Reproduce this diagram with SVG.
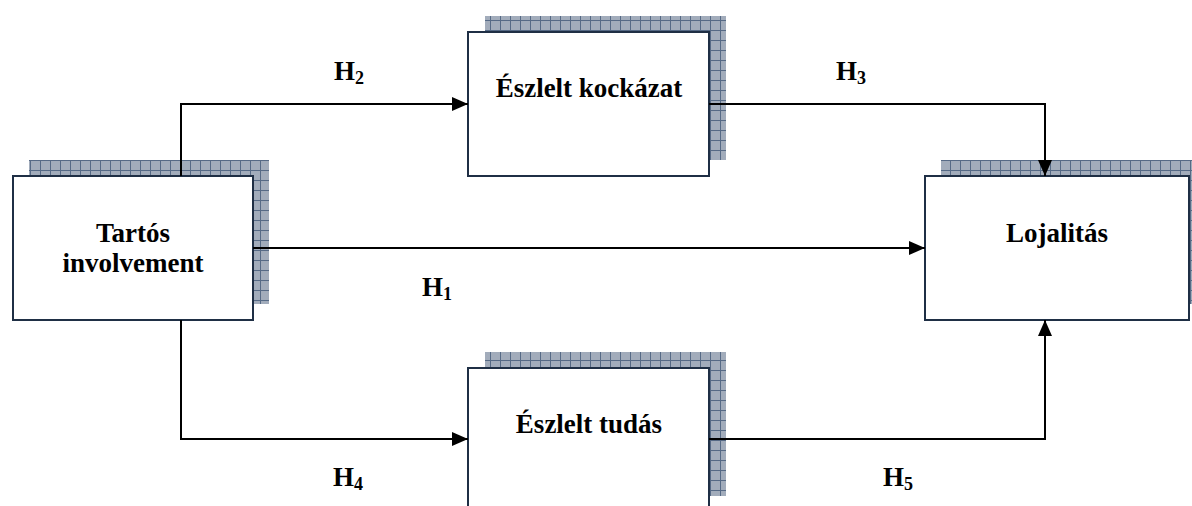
<svg xmlns="http://www.w3.org/2000/svg" width="1192" height="506" viewBox="0 0 1192 506">
  <style>
    .box { fill: #ffffff; stroke: #1f2f45; stroke-width: 2; }
    .shadow { fill: url(#grid); }
    text { font-family: 'Liberation Serif', 'Times New Roman', 'DejaVu Serif', serif; font-weight: bold; font-size: 27px; fill: #000000; }
    .sub { font-size: 18px; }
    .link { fill: none; stroke: #000000; stroke-width: 2; }
  </style>
  <defs>
    <!-- checked grid used for the offset drop shadows -->
    <pattern id="grid" patternUnits="userSpaceOnUse" width="10" height="10">
      <rect width="10" height="10" fill="#a2acbb"/>
      <path d="M0 0.5H10M0.5 0V10" stroke="#566a86" stroke-width="1"/>
    </pattern>
    <marker id="arrow" markerWidth="16" markerHeight="14" refX="16" refY="7" orient="auto" markerUnits="userSpaceOnUse">
      <path d="M0 0L16 7L0 14Z" fill="#000000"/>
    </marker>
  </defs>

  <g id="node-tartos">
    <rect class="shadow" x="29" y="160" width="240" height="144"/>
    <rect class="box" x="13" y="176" width="240" height="144"/>
    <text x="133" y="242" text-anchor="middle">Tartós</text>
    <text x="133" y="272" text-anchor="middle">involvement</text>
  </g>

  <g id="node-kockazat">
    <rect class="shadow" x="485" y="16" width="241" height="144"/>
    <rect class="box" x="468" y="32" width="241" height="144"/>
    <text x="589" y="97" text-anchor="middle">Észlelt kockázat</text>
  </g>

  <g id="node-tudas">
    <rect class="shadow" x="485" y="352" width="241" height="144"/>
    <rect class="box" x="468" y="368" width="241" height="144"/>
    <text x="589" y="433" text-anchor="middle">Észlelt tudás</text>
  </g>

  <g id="node-lojalitas">
    <rect class="shadow" x="941" y="160" width="264" height="144"/>
    <rect class="box" x="925" y="176" width="264" height="144"/>
    <text x="1057" y="242" text-anchor="middle">Lojalitás</text>
  </g>

  <g id="connectors">
    <path class="link" d="M181 176V104H468" marker-end="url(#arrow)"/>
    <path class="link" d="M253 248H925" marker-end="url(#arrow)"/>
    <path class="link" d="M181 320V439H468" marker-end="url(#arrow)"/>
    <path class="link" d="M709 104H1045V176" marker-end="url(#arrow)"/>
    <path class="link" d="M709 439H1045V320" marker-end="url(#arrow)"/>
  </g>

  <g id="labels">
    <text x="334" y="80">H<tspan class="sub" dy="4">2</tspan></text>
    <text x="836" y="80">H<tspan class="sub" dy="4">3</tspan></text>
    <text x="422" y="296">H<tspan class="sub" dy="4">1</tspan></text>
    <text x="333" y="486">H<tspan class="sub" dy="4">4</tspan></text>
    <text x="883" y="486">H<tspan class="sub" dy="4">5</tspan></text>
  </g>
</svg>
